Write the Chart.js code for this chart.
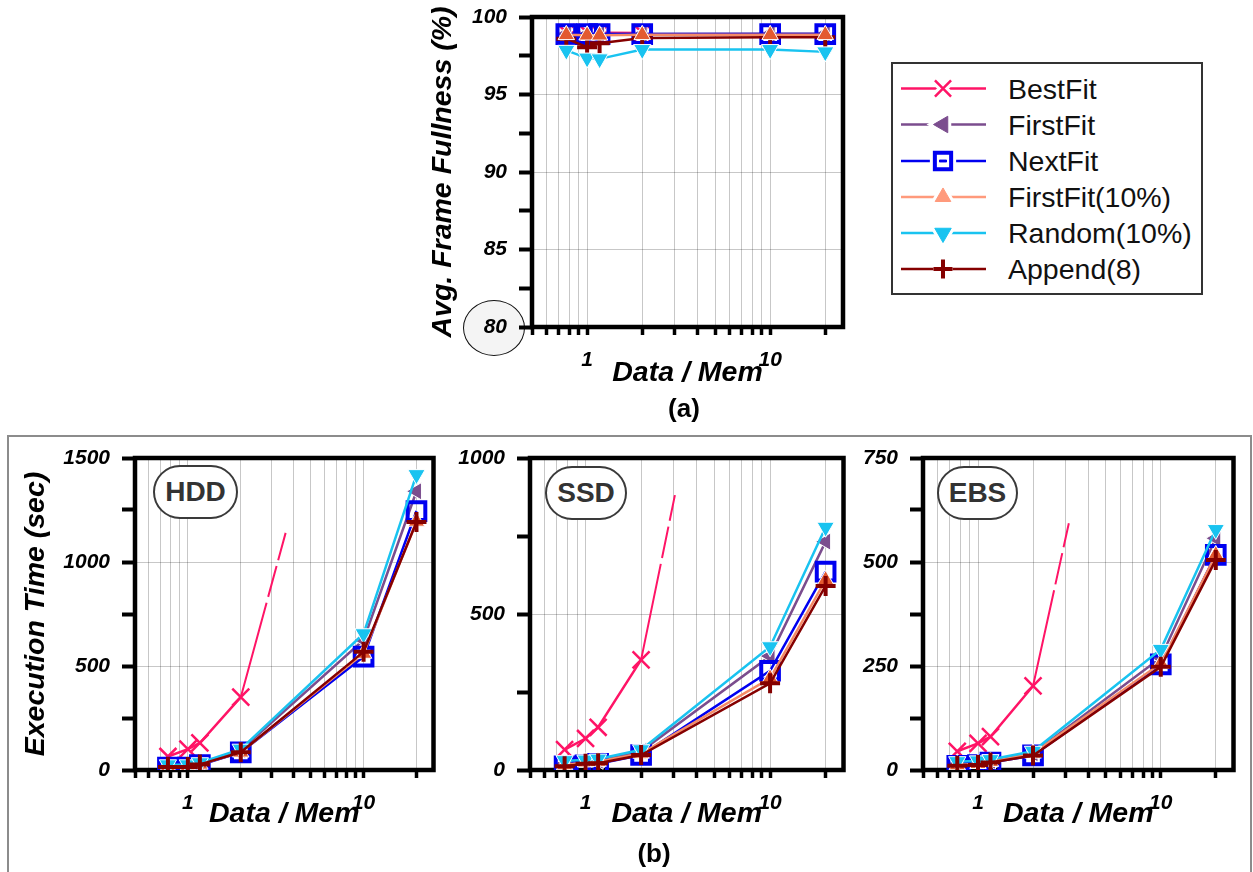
<!DOCTYPE html>
<html>
<head>
<meta charset="utf-8">
<script src="https://cdn.jsdelivr.net/npm/chart.js@4.4.1/dist/chart.umd.min.js"></script>
<style>
  html, body { margin:0; padding:0; background:#fff; }
  body { width:1253px; height:872px; overflow:hidden; position:relative;
         font-family:"Liberation Sans", Arial, Helvetica, sans-serif; }
  .abs { position:absolute; }
  canvas { position:absolute; }
  .pill { position:absolute; box-sizing:border-box; border:2.5px solid #3a3a3a; border-radius:28px;
          background:#fff; color:#333; font-weight:bold; font-size:28px; text-align:center; line-height:49px; }
  .lgtext { position:absolute; left:1008px; font-size:28.5px; color:#111; line-height:30px; white-space:nowrap; }
  .cap { position:absolute; font-weight:bold; font-size:26px; text-align:center; width:100px; line-height:28px; color:#000; }
</style>
</head>
<body>
<div class="abs" style="left:7px;top:435px;width:1245px;height:460px;border:2px solid #8c8c8c;box-sizing:border-box;"></div>
<div class="abs" style="left:463px;top:300px;width:62px;height:56px;border:1.5px solid #111;border-radius:50%;background:#f4f4f4;box-sizing:border-box;"></div>

<canvas id="cA" width="470" height="408" style="left:400px;top:-8px;width:470px;height:408px;"></canvas>
<canvas id="cH" width="440" height="407" style="left:10px;top:433px;width:440px;height:407px;"></canvas>
<canvas id="cS" width="410" height="407" style="left:450px;top:433px;width:410px;height:407px;"></canvas>
<canvas id="cE" width="390" height="407" style="left:860px;top:433px;width:390px;height:407px;"></canvas>

<div class="pill" style="left:153px;top:465px;width:85px;height:54px;">HDD</div>
<div class="pill" style="left:545px;top:466px;width:82px;height:54px;">SSD</div>
<div class="pill" style="left:937px;top:466px;width:81px;height:54px;">EBS</div>

<div class="cap" style="left:634px;top:394px;">(a)</div>
<div class="cap" style="left:604px;top:839px;">(b)</div>

<div class="abs" id="legendBox" style="left:891px;top:62px;width:312px;height:233px;border:2px solid #333;box-sizing:border-box;"></div>
<canvas id="legendSym" width="100" height="240" style="left:895px;top:60px;width:100px;height:240px;"></canvas>

<script>
// ---------------- data ----------------
const seriesNames = ['BestFit', 'FirstFit', 'NextFit', 'FirstFit(10%)', 'Random(10%)', 'Append(8)'];
const xPoints = [0.77, 1, 1.17, 2, 10, 20];
const xPointsBestFit = [0.77, 1, 1.17, 2];
const xTickValues = [0.5, 0.6, 0.7, 0.8, 0.9, 1, 2, 3, 4, 5, 6, 7, 8, 9, 10, 20];
const xLabeledTicks = [1, 10];

// (a) Avg. Frame Fullness (%)
const fullTicks = [80, 85, 90, 95, 100];
const fullBestFit   = [99.0, 99.0, 98.98, 98.97];
const fullFirstFit  = [98.92, 98.9, 98.9, 98.9, 98.92, 98.92];
const fullNextFit   = [98.9, 98.9, 98.9, 98.9, 98.9, 98.9];
const fullFirstFit10 = [98.85, 98.82, 98.82, 98.85, 98.85, 98.85];
const fullRandom10  = [97.85, 97.35, 97.3, 97.9, 97.9, 97.75];
const fullAppend8   = [98.6, 98.05, 98.3, 98.65, 98.7, 98.7];

// (b) HDD execution time (sec)
const hddTicks = [0, 500, 1000, 1500];
const hddBestFit    = [65, 100, 130, 350];
const hddBestFitTrendX = [2, 3.6];
const hddBestFitTrend  = [350, 1140];
const hddFirstFit   = [20, 22, 32, 95, 625, 1340];
const hddNextFit    = [12, 12, 24, 85, 545, 1245];
const hddFirstFit10 = [15, 16, 27, 85, 560, 1195];
const hddRandom10   = [25, 25, 35, 100, 655, 1420];
const hddAppend8    = [15, 15, 27, 85, 568, 1192];

// (b) SSD
const ssdTicks = [0, 500, 1000];
const ssdBestFit    = [65, 101, 137, 353];
const ssdBestFitTrendX = [2, 3.05];
const ssdBestFitTrend  = [353, 881];
const ssdFirstFit   = [20, 25, 30, 60, 365, 732];
const ssdNextFit    = [12, 15, 20, 48, 318, 636];
const ssdFirstFit10 = [16, 25, 27, 53, 294, 609];
const ssdRandom10   = [30, 32, 35, 65, 395, 778];
const ssdAppend8    = [12, 20, 22, 48, 278, 590];

// (b) EBS
const ebsTicks = [0, 250, 500, 750];
const ebsBestFit    = [45, 64, 80, 202];
const ebsBestFitTrendX = [2, 3.14];
const ebsBestFitTrend  = [202, 593];
const ebsFirstFit   = [15, 18, 22, 40, 270, 557];
const ebsNextFit    = [10, 12, 18, 35, 254, 517];
const ebsFirstFit10 = [12, 15, 20, 40, 256, 517];
const ebsRandom10   = [20, 22, 25, 45, 290, 578];
const ebsAppend8    = [10, 12, 18, 35, 248, 505];

// ---------------- styles ----------------
const FONT = '"Liberation Sans", Arial, Helvetica, sans-serif';
const styles = [
  {color:'#ff1466', fill:'#ff1466', border:'#ff1466', style:'crossRot', rot:0,   r:12,   bw:2.5},
  {color:'#7b4d8e', fill:'#7b4d8e', border:'#ffffff', style:'triangle', rot:-90, r:10,   bw:1},
  {color:'#0000f0', fill:'rgba(0,0,0,0)', border:'#0000f0', style:'rect', rot:0, r:12.5, bw:4},
  {color:'#f58a66', fill:'#e35a30', border:'#ffffff', style:'triangle', rot:0,   r:9.5,  bw:1},
  {color:'#19c3f0', fill:'#19c3f0', border:'#ffffff', style:'triangle', rot:180, r:10,   bw:1},
  {color:'#850000', fill:'#850000', border:'#850000', style:'cross',    rot:0,   r:10,   bw:4}
];
const tickFont = {family: FONT, size: 21, style: 'italic', weight: 'bold'};
const titleFont = {family: FONT, size: 28.5, style: 'italic', weight: 'bold'};

function buildDatasets(seriesVals, trendX, trendY, orderList) {
  const ds = seriesVals.map((vals, i) => {
    const s = styles[i];
    const xs = i === 0 ? xPointsBestFit : xPoints;
    return {
      label: seriesNames[i],
      data: vals.map((v, j) => ({x: xs[j], y: v})),
      borderColor: s.color, backgroundColor: s.fill, borderWidth: 2.5,
      pointStyle: s.style, pointRotation: s.rot, pointRadius: s.r, pointHoverRadius: s.r,
      pointBackgroundColor: s.fill, pointBorderColor: s.border, pointBorderWidth: s.bw,
      pointHoverBorderWidth: s.bw,
      fill: false, tension: 0, order: orderList ? orderList[i] : 10 - i
    };
  });
  if (trendX) {
    ds.push({
      label: 'BestFit (trend)',
      data: trendX.map((x, j) => ({x: x, y: trendY[j]})),
      borderColor: styles[0].color, borderWidth: 2, borderDash: [98, 6, 32, 6],
      pointRadius: 0, pointHoverRadius: 0, fill: false, order: 20
    });
  }
  return ds;
}

const framePlugin = {
  id: 'frame',
  beforeDatasetsDraw(chart) {
    const {ctx, chartArea: a} = chart;
    ctx.save();
    ctx.strokeStyle = '#000';
    ctx.lineWidth = 4.5;
    ctx.strokeRect(a.left, a.top, a.right - a.left, a.bottom - a.top);
    ctx.restore();
  }
};

function makeChart(id, box, datasets, yCfg) {
  const labels = yCfg.labels;
  return new Chart(document.getElementById(id), {
    type: 'line',
    data: {datasets: datasets},
    plugins: [framePlugin],
    options: {
      responsive: false, animation: false, devicePixelRatio: 1, events: [],
      layout: {padding: {left: 0, top: 25, right: box.padRight, bottom: 0}},
      plugins: {legend: {display: false}, tooltip: {enabled: false}},
      scales: {
        x: {
          type: 'logarithmic', min: 0.5, max: 25,
          afterBuildTicks: sc => { sc.ticks = xTickValues.map(v => ({value: v})); },
          afterFit: sc => { sc.height = box.xAxisH; },
          ticks: {autoSkip: false, maxRotation: 0, minRotation: 0, padding: 13, color: '#000', font: tickFont,
                  callback: v => xLabeledTicks.includes(v) ? String(v) : ''},
          grid: {color: 'rgba(0,0,0,0.22)', lineWidth: 1, drawTicks: true, tickLength: 8, tickWidth: 3.5, tickColor: '#000'},
          border: {display: false},
          title: {display: true, text: 'Data / Mem', color: '#000', font: titleFont,
                  padding: {top: 0, bottom: box.xTitlePad}}
        },
        y: {
          min: labels[0], max: labels[labels.length - 1],
          afterFit: sc => { sc.width = box.yAxisW; },
          ticks: {stepSize: yCfg.step, autoSkip: false, padding: 12, color: '#000', font: tickFont,
                  callback: v => labels.includes(v) ? String(v) : ''},
          grid: {color: c => (c.tick && labels.includes(c.tick.value)) ? 'rgba(0,0,0,0.22)' : 'rgba(0,0,0,0)',
                 lineWidth: 1, drawTicks: true, tickLength: 13, tickWidth: 4, tickColor: '#000'},
          border: {display: false},
          title: {display: !!yCfg.title, text: yCfg.title || '', color: '#000', font: titleFont,
                  padding: {top: yCfg.titlePad || 0, bottom: 0}}
        }
      }
    }
  });
}

// (a)  (FirstFit(10%) triangles sit above the Append(8) crosses here)
makeChart('cA', {padRight: 27, yAxisW: 132, xAxisH: 73, xTitlePad: 9.9},
  buildDatasets([fullBestFit, fullFirstFit, fullNextFit, fullFirstFit10, fullRandom10, fullAppend8], null, null,
                [10, 9, 8, 5, 6, 7]),
  {labels: fullTicks, step: 2.5, title: 'Avg. Frame Fullness (%)', titlePad: 25.9});

// (b) HDD
makeChart('cH', {padRight: 7, yAxisW: 125, xAxisH: 70, xTitlePad: 8.9},
  buildDatasets([hddBestFit, hddFirstFit, hddNextFit, hddFirstFit10, hddRandom10, hddAppend8], hddBestFitTrendX, hddBestFitTrend),
  {labels: hddTicks, step: 250, title: 'Execution Time (sec)', titlePad: 8.9});

// (b) SSD
makeChart('cS', {padRight: 15, yAxisW: 80, xAxisH: 70, xTitlePad: 8.9},
  buildDatasets([ssdBestFit, ssdFirstFit, ssdNextFit, ssdFirstFit10, ssdRandom10, ssdAppend8], ssdBestFitTrendX, ssdBestFitTrend),
  {labels: ssdTicks, step: 250});

// (b) EBS
makeChart('cE', {padRight: 13, yAxisW: 63, xAxisH: 70, xTitlePad: 8.9},
  buildDatasets([ebsBestFit, ebsFirstFit, ebsNextFit, ebsFirstFit10, ebsRandom10, ebsAppend8], ebsBestFitTrendX, ebsBestFitTrend),
  {labels: ebsTicks, step: 125});

// ---------------- legend ----------------
(function () {
  const rowY = [88.5, 124.5, 161, 197, 233, 269];
  const legendFill = ['#ff1466', '#7b4d8e', 'rgba(0,0,0,0)', '#ff9a7c', '#19c3f0', '#850000'];
  const legendLine = ['#ff1466', '#7b4d8e', '#0000f0', '#ff9a7c', '#19c3f0', '#850000'];
  const cv = document.getElementById('legendSym');
  const g = cv.getContext('2d');
  const top = 60, left = 895;
  const drawPt = (Chart.helpers && Chart.helpers.drawPoint) ? Chart.helpers.drawPoint : null;
  styles.forEach((s, i) => {
    const y = rowY[i] - top;
    const cx = 943 - left;
    g.strokeStyle = legendLine[i]; g.lineWidth = 2.5;
    g.beginPath(); g.moveTo(901 - left, y); g.lineTo(986 - left, y); g.stroke();
    const opts = {pointStyle: s.style, rotation: s.rot, radius: s.style === 'rect' ? 11.5 : s.r * 0.95, borderWidth: s.bw};
    if (drawPt) {
      g.strokeStyle = '#fff'; g.fillStyle = 'rgba(0,0,0,0)'; g.lineWidth = s.bw + 6;
      drawPt(g, Object.assign({}, opts, {borderWidth: s.bw + 6}), cx, y);
      g.fillStyle = legendFill[i];
      g.strokeStyle = (s.border === '#ffffff') ? legendFill[i] : legendLine[i];
      g.lineWidth = s.bw;
      if (s.style === 'rect') { g.strokeStyle = legendLine[i]; g.beginPath(); g.moveTo(cx - 4, y); g.lineTo(cx + 4, y); g.lineWidth = 2.5; g.stroke(); g.lineWidth = s.bw; }
      drawPt(g, opts, cx, y);
    }
    const t = document.createElement('div');
    t.className = 'lgtext';
    t.textContent = seriesNames[i];
    t.style.top = (rowY[i] - 15) + 'px';
    document.body.appendChild(t);
  });
})();
</script>
</body>
</html>
